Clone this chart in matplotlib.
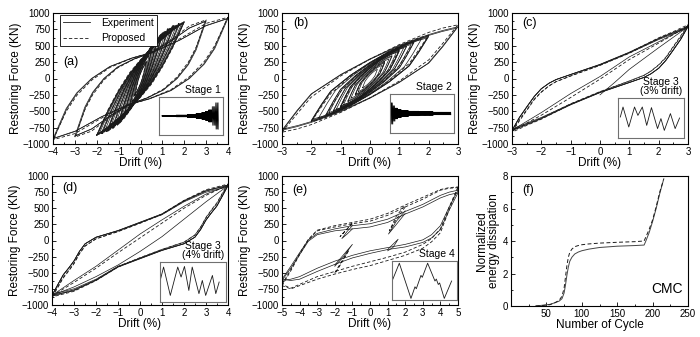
import numpy as np
import matplotlib
matplotlib.use('Agg')
import matplotlib.pyplot as plt
from matplotlib.ticker import MultipleLocator
from matplotlib.lines import Line2D

plt.rcParams['font.family'] = ['Liberation Sans', 'DejaVu Sans']

# ---------------- data ----------------
# (a) stage 1 - loop shapes (normalised upper branch) and cycle peaks
a_tx_big = [-1.0, -0.85, -0.73, -0.56, -0.35, -0.10, 0.15, 0.45, 0.75, 1.0]
a_ty_big_exp = [-1.0, -0.50, -0.24, 0.0, 0.20, 0.34, 0.44, 0.64, 0.88, 1.0]
a_ty_big_pro = [-1.0, -0.54, -0.28, -0.03, 0.18, 0.33, 0.44, 0.65, 0.90, 1.0]
a_big_drift_exp = [2.95, 3.0, 3.95, 4.0]
a_big_force_exp = [870, 880, 910, 920]
a_big_drift_pro = [3.0, 4.0]
a_big_force_pro = [895, 935]

a_tx_small = [-1.0, -0.75, -0.5, -0.25, 0.0, 0.25, 0.5, 0.75, 1.0]
a_ty_small_exp = [-1.0, -0.58, -0.22, 0.08, 0.32, 0.52, 0.70, 0.86, 1.0]
a_ty_small_pro = [-1.0, -0.56, -0.20, 0.10, 0.33, 0.53, 0.71, 0.87, 1.0]
a_small_drift_exp = [0.25, 0.3, 0.4, 0.5, 0.5, 0.55, 0.65, 0.75, 0.75, 0.8, 0.9,
                     1.0, 1.0, 1.05, 1.15, 1.25, 1.3, 1.4, 1.5, 1.5, 1.55,
                     1.65, 1.75, 1.8, 1.9, 2.0, 1.95, 2.0]
a_small_force_exp = [240, 270, 360, 420, 430, 450, 520, 560, 580, 600, 640,
                     680, 690, 710, 720, 740, 760, 770, 790, 800, 810,
                     815, 830, 840, 850, 860, 850, 870]
a_small_drift_pro = [0.25, 0.5, 0.75, 1.0, 1.25, 1.5, 1.75, 2.0]
a_small_force_pro = [260, 440, 590, 700, 760, 810, 840, 870]

# (b) stage 2
b_tx = [-1.0, -0.83, -0.67, -0.33, 0.0, 0.33, 0.67, 0.83, 1.0]
b_ty_exp = [-1.0, -0.62, -0.30, 0.08, 0.38, 0.64, 0.85, 0.93, 1.0]
b_ty_pro = [-1.0, -0.66, -0.35, 0.05, 0.36, 0.63, 0.86, 0.94, 1.0]
b_drift_exp = [3.0, 2.95, 2.0, 2.0, 1.95, 1.75, 1.5, 1.5, 1.4, 1.25, 1.25, 1.15,
               1.0, 1.0, 1.0, 0.9, 0.75, 0.75, 0.65, 0.5, 0.5, 0.4, 0.25]
b_force_exp = [790, 770, 650, 640, 620, 600, 560, 550, 520, 500, 490, 470,
               440, 430, 420, 400, 350, 340, 300, 250, 240, 200, 140]
b_drift_pro = [3.0, 2.0, 1.5, 1.0, 0.5]
b_force_pro = [820, 660, 570, 450, 260]

# (c) stage 3, 3% drift
c_tx = [-1.0, -0.92, -0.83, -0.75, -0.67, -0.58, -0.5, -0.33, 0.0, 0.33, 0.67, 0.83, 0.92, 1.0]
c_ty_exp = [-1.0, -0.76, -0.54, -0.35, -0.20, -0.09, -0.02, 0.08, 0.27, 0.50, 0.77, 0.88, 0.94, 1.0]
c_ty_pro = [-1.0, -0.80, -0.59, -0.40, -0.26, -0.14, -0.06, 0.05, 0.25, 0.48, 0.76, 0.87, 0.94, 1.0]
c_drift_exp = [3.0, 2.97, 3.0]
c_force_exp = [790, 770, 800]
c_drift_pro = [3.0, 3.0]
c_force_pro = [800, 820]
c_inner_exp_x = [[-3.0, -2.0, -1.0, 0.0, 1.0, 2.0, 3.0],
                 [0.0, 0.5, 1.0, 2.0, 3.0]]
c_inner_exp_y = [[-790, -520, -230, 30, 330, 560, 790],
                 [-250, -60, 140, 470, 790]]
c_inner_pro_x = [[-3.0, -2.0, -1.0, 0.0, 1.0, 2.0, 3.0]]
c_inner_pro_y = [[-800, -560, -290, -10, 290, 540, 800]]

# (d) stage 3, 4% drift
d_tx = [-1.0, -0.94, -0.875, -0.81, -0.75, -0.69, -0.625, -0.5, -0.25, 0.0, 0.25, 0.5, 0.75, 1.0]
d_ty_exp = [-1.0, -0.82, -0.63, -0.50, -0.37, -0.20, -0.06, 0.06, 0.18, 0.33, 0.48, 0.72, 0.90, 1.0]
d_ty_pro = [-1.0, -0.85, -0.67, -0.54, -0.41, -0.24, -0.10, 0.03, 0.16, 0.31, 0.47, 0.71, 0.90, 1.0]
d_drift_exp = [4.0, 3.97, 4.0]
d_force_exp = [850, 830, 860]
d_drift_pro = [4.0, 4.0]
d_force_pro = [860, 875]
d_inner_exp_x = [[-4.0, -3.0, -2.0, -1.0, 0.0, 1.0, 2.0, 3.0, 4.0],
                 [4.0, 3.0, 2.0, 1.0, 0.0, -1.0, -2.0, -3.0, -4.0]]
d_inner_exp_y = [[-850, -620, -400, -150, 100, 320, 530, 720, 850],
                 [850, 600, 330, 60, -170, -380, -560, -720, -850]]
d_inner_pro_x = [[-4.0, -3.0, -2.0, -1.0, 0.0, 1.0, 2.0, 3.0, 4.0]]
d_inner_pro_y = [[-860, -650, -430, -190, 40, 270, 500, 700, 860]]

# (e) stage 4
e_up_x = [-5.0, -4.5, -4.0, -3.5, -3.0, -2.0, -1.0, 0.0, 1.0, 2.0, 3.0, 4.0, 4.5, 5.0]
e_up_exp = [[-620, -430, -220, -10, 90, 150, 180, 210, 280, 410, 520, 660, 710, 740],
            [-600, -400, -190, 10, 110, 180, 230, 260, 330, 450, 560, 700, 750, 780]]
e_up_pro = [[-700, -470, -220, 10, 150, 210, 260, 300, 390, 520, 640, 780, 810, 820],
            [-680, -450, -200, 20, 160, 230, 280, 330, 420, 550, 670, 790, 820, 830]]
e_lo_x = [5.0, 4.5, 4.0, 3.5, 3.0, 2.0, 1.0, 0.0, -1.0, -2.0, -3.0, -4.0, -4.5, -5.0]
e_lo_exp = [[740, 470, 170, 40, -30, -100, -140, -200, -270, -370, -480, -600, -620, -600],
            [780, 520, 230, 90, 10, -60, -110, -160, -230, -320, -430, -560, -600, -620]]
e_lo_pro = [[820, 480, 120, -20, -120, -230, -310, -390, -450, -520, -600, -700, -750, -700],
            [830, 520, 180, 30, -60, -180, -260, -330, -400, -480, -560, -680, -740, -680]]
e_rev_exp_x = [[-1.0, -1.3, -1.6, -1.3, -1.0], [2.0, 1.5, 1.05, 1.5, 2.0],
               [1.0, 1.3, 1.6, 1.3, 1.0], [-2.0, -1.5, -1.0, -1.5, -2.0]]
e_rev_exp_y = [[180, 100, 30, 140, 230], [420, 250, 100, 300, 460],
               [-140, -60, 20, -110, -160], [-380, -220, -60, -250, -400]]
e_rev_pro_x = [[-1.0, -1.4, -1.7, -1.3, -1.0], [2.0, 1.5, 1.1, 1.5, 2.0],
               [-2.0, -1.6, -1.2, -1.6, -2.0]]
e_rev_pro_y = [[260, 150, 60, 180, 280], [520, 330, 150, 380, 550],
               [-500, -320, -150, -340, -520]]

# (f) normalised energy dissipation
f_cyc_exp = [35, 45, 55, 62, 68, 72, 75, 77, 79, 81, 83, 86, 90, 95, 100, 110,
             125, 150, 175, 188, 190, 195, 200, 205, 210, 215]
f_en_exp = [0.0, 0.05, 0.1, 0.2, 0.3, 0.45, 0.8, 1.3, 1.9, 2.4, 2.75, 3.0, 3.2,
            3.32, 3.4, 3.5, 3.6, 3.68, 3.72, 3.75, 3.95, 4.5, 5.2, 6.0, 6.9, 7.7]
f_cyc_pro = [35, 45, 55, 62, 68, 72, 75, 77, 79, 81, 83, 86, 90, 95, 100, 110,
             125, 150, 175, 188, 190, 195, 200, 205, 210, 216]
f_en_pro = [0.0, 0.03, 0.08, 0.2, 0.35, 0.6, 1.1, 1.8, 2.5, 3.0, 3.3, 3.5, 3.65,
            3.72, 3.77, 3.82, 3.87, 3.92, 3.96, 4.0, 4.2, 4.7, 5.3, 6.1, 7.0, 7.85]

# inset loading histories
stage1_amp = [0.03, 0.05, 0.08, 0.12, 0.17, 0.24, 0.32, 0.5, 0.7]
stage1_n = [50, 40, 30, 20, 14, 10, 8, 4, 4]
stage1_step = [1, 1, 1, 1, 1, 1, 1.5, 3, 3]
stage2_amp = [0.55, 0.4, 0.28, 0.2, 0.15, 0.12, 0.09, 0.07]
stage2_n = [3, 3, 5, 10, 20, 30, 40, 50]
stage2_step = [2, 2, 1.5, 1, 1, 1, 1, 1]
stage3a_t = [0.8, 1.6, 3.3, 5.0, 6.0, 7.3, 8.6, 10.0, 11.8, 12.8, 13.8, 15.6, 17.0, 18.3]
stage3a_y = [0.05, 0.55, -0.45, 0.55, 0.13, 0.55, -0.37, 0.52, -0.53, -0.03, -0.62, 0.22, -0.53, 0.0]
stage3b_t = [0.2, 1.2, 3.2, 5.4, 6.4, 7.4, 8.7, 9.7, 11.7, 12.7, 13.7, 15.7, 16.7, 17.7]
stage3b_y = [0.08, 0.75, -0.67, 0.75, 0.25, 0.78, -0.42, 0.75, -0.58, 0.08, -0.67, 0.33, -0.58, 0.0]
stage4_t = [0.3, 2.3, 5.8, 7.0, 7.4, 8.8, 9.2, 10.8, 13.0, 13.4, 14.0, 14.4, 15.8, 18.0]
stage4_y = [0.05, 0.9, -0.92, -0.32, -0.42, 0.27, 0.17, 0.9, -0.02, 0.08, -0.2, -0.12, -0.92, -0.02]

LINE = '#1a1a1a'
W, H = 700, 337


def rect(l, r, t, b):
    return [l / W, 1 - b / H, (r - l) / W, (b - t) / H]


def loop_xy(tx, ty, drift, force):
    # upper branch from the template, lower branch is its point reflection
    ux = np.array(tx) * drift
    uy = np.array(ty) * force
    return np.concatenate([ux, -ux[1:]]), np.concatenate([uy, -uy[1:]])


def exp_line(ax, x, y):
    ax.plot(x, y, color=LINE, lw=0.5)


def pro_line(ax, x, y):
    ax.plot(x, y, color=LINE, lw=0.6, dashes=(4, 2.5))


def style_axis(ax):
    for s in ax.spines.values():
        s.set_linewidth(0.8)
    ax.tick_params(which='both', direction='in', labelsize=7, pad=2, width=0.6)
    ax.tick_params(which='major', length=3)
    ax.tick_params(which='minor', length=1.5)


def setup_hyst(ax, xmax):
    ax.set_xlim(-xmax, xmax)
    ax.set_ylim(-1000, 1000)
    ax.xaxis.set_major_locator(MultipleLocator(1))
    ax.xaxis.set_minor_locator(MultipleLocator(0.5))
    ax.yaxis.set_major_locator(MultipleLocator(250))
    ax.yaxis.set_minor_locator(MultipleLocator(125))
    style_axis(ax)
    ax.set_xlabel('Drift (%)', fontsize=8.5, labelpad=0)
    ax.set_ylabel('Restoring Force (KN)', fontsize=8.5, labelpad=1)


def add_inset(ax, box, label):
    ins = ax.inset_axes(box)
    ins.set_xticks([])
    ins.set_yticks([])
    for s in ins.spines.values():
        s.set_color('#707070')
        s.set_linewidth(0.8)
    ins.set_ylim(-1, 1)
    ax.text(box[0] + box[2] - 0.01, box[1] + box[3] + 0.015, label,
            transform=ax.transAxes, ha='right', va='bottom', fontsize=7.5,
            multialignment='center', linespacing=0.9)
    return ins


def zigzag(amps, counts, steps):
    t, y, cur = [0.0], [0.0], 0.0
    for a, n, s in zip(amps, counts, steps):
        for _ in range(n):
            cur += s
            t.append(cur)
            y.append(a)
            cur += s
            t.append(cur)
            y.append(-a)
    return t, y


fig = plt.figure(figsize=(7, 3.37), dpi=100)

# ---------- (a) ----------
ax = fig.add_axes(rect(53, 228, 13, 144))
for d, f in zip(a_small_drift_exp, a_small_force_exp):
    exp_line(ax, *loop_xy(a_tx_small, a_ty_small_exp, d, f))
for d, f in zip(a_small_drift_pro, a_small_force_pro):
    pro_line(ax, *loop_xy(a_tx_small, a_ty_small_pro, d, f))
for d, f in zip(a_big_drift_exp, a_big_force_exp):
    exp_line(ax, *loop_xy(a_tx_big, a_ty_big_exp, d, f))
for d, f in zip(a_big_drift_pro, a_big_force_pro):
    pro_line(ax, *loop_xy(a_tx_big, a_ty_big_pro, d, f))
setup_hyst(ax, 4)
ax.text(0.057, 0.626, '(a)', transform=ax.transAxes, fontsize=9, va='center')
handles = [Line2D([], [], color=LINE, lw=0.6),
           Line2D([], [], color=LINE, lw=0.6, dashes=(4, 2.5))]
leg = ax.legend(handles, ['Experiment', 'Proposed'], loc='upper left',
                bbox_to_anchor=(0.04, 0.985), borderaxespad=0, fontsize=7.5,
                fancybox=False, handlelength=2.6, labelspacing=0.5,
                borderpad=0.3, handletextpad=1.0, framealpha=1)
leg.get_frame().set_edgecolor('black')
leg.get_frame().set_linewidth(0.6)
ins = add_inset(ax, [0.606, 0.069, 0.366, 0.29], 'Stage 1')
t, y = zigzag(stage1_amp, stage1_n, stage1_step)
ins.plot(t, y, color='black', lw=0.4)
ins.set_xlim(-0.05 * t[-1], 1.08 * t[-1])

# ---------- (b) ----------
ax = fig.add_axes(rect(282, 458, 13, 144))
for d, f in zip(b_drift_exp, b_force_exp):
    exp_line(ax, *loop_xy(b_tx, b_ty_exp, d, f))
for d, f in zip(b_drift_pro, b_force_pro):
    pro_line(ax, *loop_xy(b_tx, b_ty_pro, d, f))
setup_hyst(ax, 3)
ax.text(0.063, 0.924, '(b)', transform=ax.transAxes, fontsize=9, va='center')
ins = add_inset(ax, [0.611, 0.084, 0.366, 0.298], 'Stage 2')
t, y = zigzag(stage2_amp, stage2_n, stage2_step)
ins.plot(t, y, color='black', lw=0.4)
ins.set_xlim(-0.02 * t[-1], 1.05 * t[-1])

# ---------- (c) ----------
ax = fig.add_axes(rect(512, 688, 13, 144))
for d, f in zip(c_drift_exp, c_force_exp):
    exp_line(ax, *loop_xy(c_tx, c_ty_exp, d, f))
for d, f in zip(c_drift_pro, c_force_pro):
    pro_line(ax, *loop_xy(c_tx, c_ty_pro, d, f))
for x, y in zip(c_inner_exp_x, c_inner_exp_y):
    exp_line(ax, x, y)
for x, y in zip(c_inner_pro_x, c_inner_pro_y):
    pro_line(ax, x, y)
setup_hyst(ax, 3)
ax.text(0.057, 0.924, '(c)', transform=ax.transAxes, fontsize=9, va='center')
ins = add_inset(ax, [0.6, 0.046, 0.377, 0.305], 'Stage 3\n(3% drift)')
ins.plot(stage3a_t, stage3a_y, color=LINE, lw=0.6)
ins.set_xlim(0, 19.6)

# ---------- (d) ----------
ax = fig.add_axes(rect(52, 228, 176, 305))
for d, f in zip(d_drift_exp, d_force_exp):
    exp_line(ax, *loop_xy(d_tx, d_ty_exp, d, f))
for d, f in zip(d_drift_pro, d_force_pro):
    pro_line(ax, *loop_xy(d_tx, d_ty_pro, d, f))
for x, y in zip(d_inner_exp_x, d_inner_exp_y):
    exp_line(ax, x, y)
for x, y in zip(d_inner_pro_x, d_inner_pro_y):
    pro_line(ax, x, y)
setup_hyst(ax, 4)
ax.text(0.057, 0.907, '(d)', transform=ax.transAxes, fontsize=9, va='center')
ins = add_inset(ax, [0.611, 0.023, 0.377, 0.31], 'Stage 3\n(4% drift)')
ins.plot(stage3b_t, stage3b_y, color=LINE, lw=0.6)
ins.set_xlim(0, 19.7)

# ---------- (e) ----------
ax = fig.add_axes(rect(282, 458, 176, 305))
for yu, yl in zip(e_up_exp, e_lo_exp):
    exp_line(ax, e_up_x, yu)
    exp_line(ax, e_lo_x, yl)
for yu, yl in zip(e_up_pro, e_lo_pro):
    pro_line(ax, e_up_x, yu)
    pro_line(ax, e_lo_x, yl)
for x, y in zip(e_rev_exp_x, e_rev_exp_y):
    exp_line(ax, x, y)
for x, y in zip(e_rev_pro_x, e_rev_pro_y):
    pro_line(ax, x, y)
setup_hyst(ax, 5)
ax.text(0.057, 0.89, '(e)', transform=ax.transAxes, fontsize=9, va='center')
ins = add_inset(ax, [0.623, 0.039, 0.371, 0.30], 'Stage 4')
ins.plot(stage4_t, stage4_y, color=LINE, lw=0.6)
ins.set_xlim(0, 19.6)

# ---------- (f) ----------
ax = fig.add_axes(rect(511, 688, 176, 306))
ax.plot(f_cyc_exp, f_en_exp, color='#444444', lw=0.7)
ax.plot(f_cyc_pro, f_en_pro, color=LINE, lw=0.7, dashes=(4, 2.5))
ax.set_xlim(0, 250)
ax.set_ylim(0, 8)
ax.set_xticks([50, 100, 150, 200, 250])
ax.xaxis.set_minor_locator(MultipleLocator(25))
ax.yaxis.set_major_locator(MultipleLocator(2))
ax.yaxis.set_minor_locator(MultipleLocator(1))
style_axis(ax)
ax.set_xlabel('Number of Cycle', fontsize=8.5, labelpad=0)
ax.set_ylabel('Normalized\nenergy dissipation', fontsize=8.5, labelpad=2,
              linespacing=0.95)
ax.text(0.062, 0.89, '(f)', transform=ax.transAxes, fontsize=9, va='center')
ax.text(0.884, 0.13, 'CMC', transform=ax.transAxes, fontsize=10,
        ha='center', va='center')

fig.savefig('out.png', dpi=100)
